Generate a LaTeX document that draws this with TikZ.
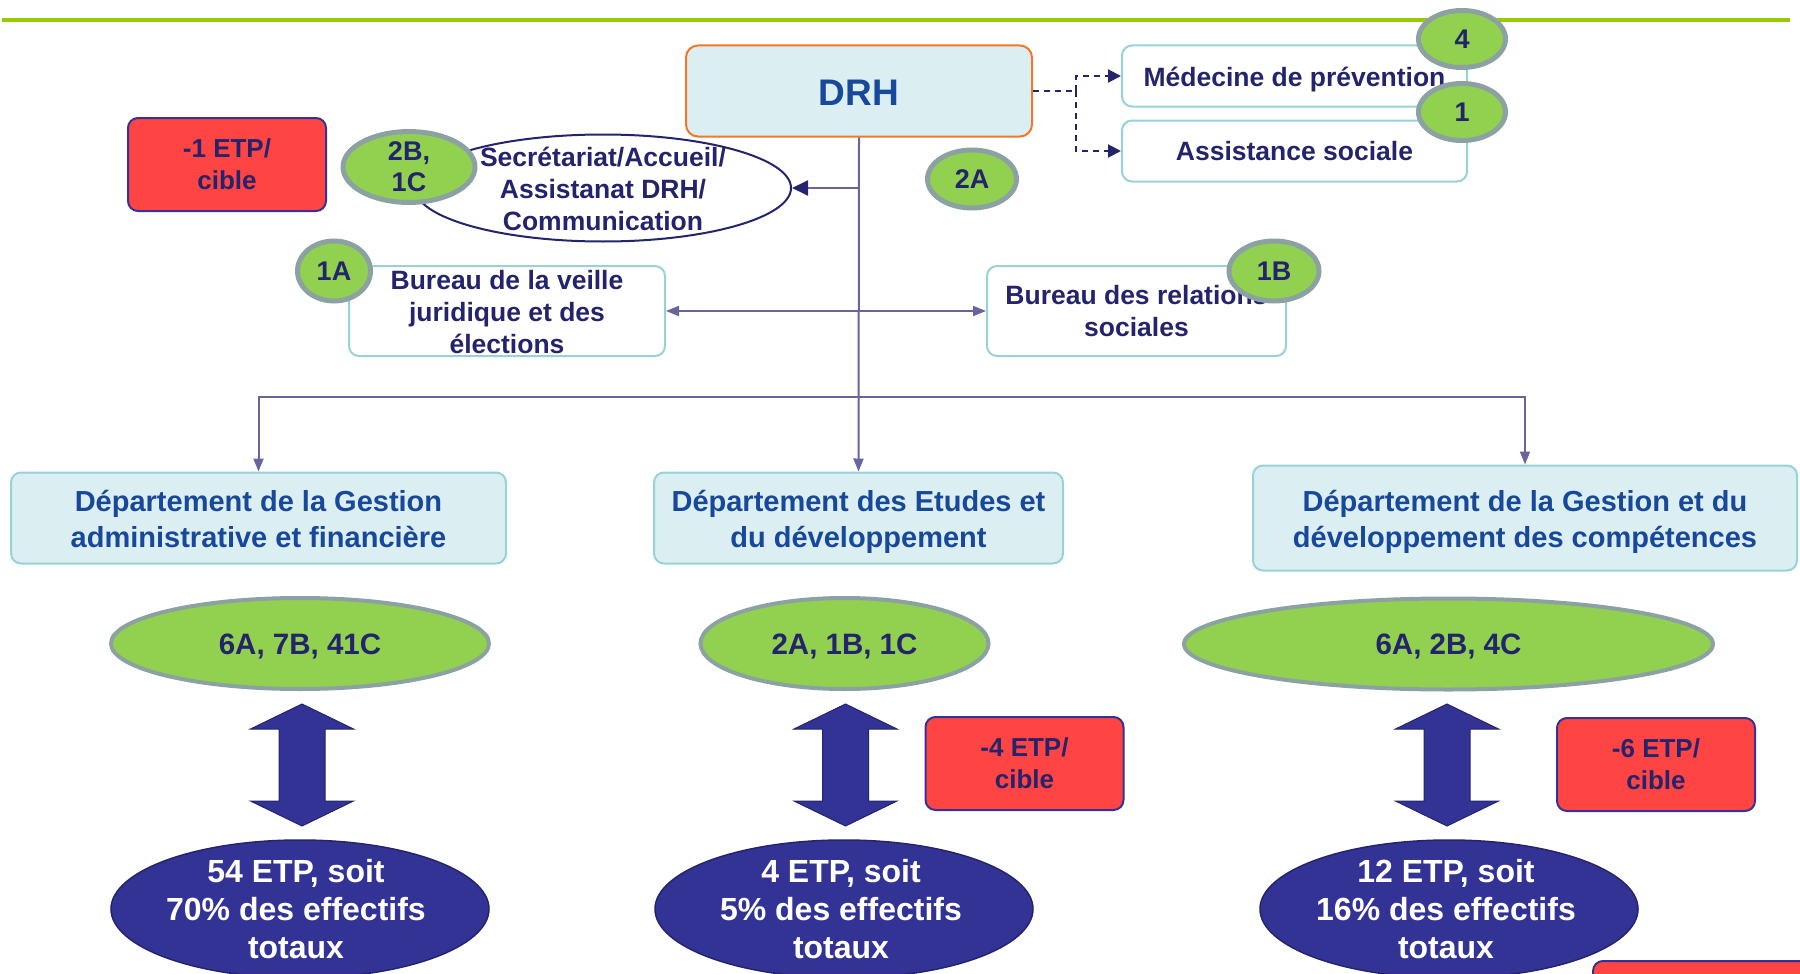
\documentclass[tikz,border=0pt]{standalone}
\usepackage{fontspec}
\setmainfont{Liberation Sans}
\usetikzlibrary{arrows.meta,shapes.geometric}

\definecolor{navytext}{RGB}{36,36,108}
\definecolor{depttext}{RGB}{24,72,154}
\definecolor{paleblue}{RGB}{219,238,241}
\definecolor{tealline}{RGB}{150,210,214}
\definecolor{orangeline}{RGB}{244,118,38}
\definecolor{leaf}{RGB}{146,208,80}
\definecolor{leafrim}{RGB}{140,162,162}
\definecolor{indigo}{RGB}{51,51,150}
\definecolor{alertred}{RGB}{255,68,68}
\definecolor{slate}{RGB}{104,100,156}
\definecolor{lime}{RGB}{153,204,0}
\newcommand\setfs[2]{\fontsize{#1}{#2}\selectfont}

\tikzset{
  unit/.style={draw=tealline, line width=2pt, rounded corners=10pt, fill=white,
    text=navytext, font=\bfseries\setfs{26.5}{32}, align=center, inner sep=0pt},
  dept/.style={unit, fill=paleblue, text=depttext, font=\bfseries\setfs{29}{36}},
  label/.style={text=navytext, font=\bfseries\setfs{26.5}{32}, align=center, inner sep=0pt},
  badge/.style={ellipse, draw=leafrim, line width=5pt, fill=leaf, text=navytext,
    font=\bfseries\setfs{27}{31}, align=center, inner sep=0pt},
  quota/.style={ellipse, draw=leafrim, line width=4pt, fill=leaf, text=navytext,
    font=\bfseries\setfs{29.5}{32}, inner sep=0pt},
  share/.style={ellipse, draw=navytext, line width=1.5pt, fill=indigo, inner sep=0pt},
  sharetext/.style={text=white, font=\bfseries\setfs{32}{38}, align=center, inner sep=0pt},
  target/.style={draw=indigo, line width=2pt, rounded corners=10pt, fill=alertred,
    text=navytext, font=\bfseries\setfs{26}{32}, align=center, inner sep=0pt},
  link/.style={draw=slate, line width=2pt, -{Triangle[length=13pt,width=10pt]}},
  dashlink/.style={draw=navytext, line width=2pt, dash pattern=on 6pt off 5pt},
  updown/.pic={
    \path[fill=indigo, draw=navytext, line width=1pt]
      (0,0) -- (51.5,25) -- (23,25) -- (23,97) -- (51.5,97) -- (0,122)
      -- (-51.5,97) -- (-23,97) -- (-23,25) -- (-51.5,25) -- cycle;
  }
}

\begin{document}
\begin{tikzpicture}[x=1pt,y=-1pt]
\useasboundingbox (0,0) rectangle (1800,974);

% header rule
\draw[lime, line width=4pt] (2,20) -- (1790,20);

% direction
\node[unit, draw=orangeline, fill=paleblue, minimum width=346, minimum height=91,
  rounded corners=12pt] (drh) at (859,91) {};
\node[text=depttext, font=\bfseries\setfs{37}{40}, inner sep=0pt] (drhtext) at (859,93) {DRH};

% attached services
\node[unit, minimum width=345, minimum height=61] (med) at (1294.5,76) {};
\node[label] (medtext) at (1294.5,80) {Médecine de prévention};
\node[unit, minimum width=345, minimum height=61] (asst) at (1294.5,151) {Assistance sociale};
\node[ellipse, draw=navytext, line width=2pt, fill=white, inner sep=0pt,
  minimum width=376, minimum height=107] (sec) at (603,188) {};
\node[label] (sectext) at (603,189) {Secrétariat/Accueil/\\Assistanat DRH/\\Communication};
\node[unit, minimum width=316, minimum height=90] (veille) at (507,311) {};
\node[label] (veilletext) at (507,312) {Bureau de la veille\\juridique et des\\élections};
\node[unit, minimum width=299, minimum height=90] (rel) at (1136.5,311)
  {Bureau des relations\\sociales};

% departments
\node[dept, minimum width=495, minimum height=91] (dl) at (258.5,518) {};
\node[dept, draw=none, fill=none] (dltext) at (258.5,519.5)
  {Département de la Gestion\\administrative et financière};
\node[dept, minimum width=409, minimum height=91] (dm) at (858.5,518) {};
\node[dept, draw=none, fill=none] (dmtext) at (858.5,521.5)
  {Département des Etudes et\\du développement};
\node[dept, minimum width=544, minimum height=105] (dr) at (1525,518) {};
\node[dept, draw=none, fill=none] (drtext) at (1525,522)
  {Département de la Gestion et du\\développement des compétences};

% connectors
\coordinate (fork) at (859,397);
\coordinate (split) at (1076,91);
\draw[link] (drh.south) -- (dm.north);
\draw[link] (fork) -| (dl.north);
\draw[link] (fork) -| (dr.north);
\draw[draw=slate, line width=2pt, -{Triangle[length=16pt,width=15pt,color=navytext]}]
  (drh.south |- sec.east) -- (sec.east);
\draw[link, {Triangle[length=13pt,width=10pt]}-{Triangle[length=13pt,width=10pt]}]
  (veille.east) -- (rel.west);
\draw[dashlink] (drh.east) -- (split);
\draw[dashlink, -{Triangle[length=13pt,width=13pt]}] (split) |- (med.west);
\draw[dashlink, -{Triangle[length=13pt,width=13pt]}] (split) |- (asst.west);

% staffing badges
\node[badge, minimum width=87, minimum height=57] (b4) at (1462,39) {4};
\node[badge, minimum width=87, minimum height=57] (b1) at (1462,112) {1};
\node[badge, minimum width=89, minimum height=58] (b2a) at (972,179) {2A};
\node[badge, minimum width=132, minimum height=60] (b2b) at (409,167) {2B,\\1C};
\node[badge, minimum width=73, minimum height=60] (b1a) at (334,271) {1A};
\node[badge, minimum width=90, minimum height=60] (b1b) at (1274,271) {1B};

% targets
\node[target, minimum width=198, minimum height=93] (t1) at (227,164.5) {-1 ETP/\\cible};
\node[target, minimum width=198, minimum height=93] (t4) at (1024.5,763.5) {-4 ETP/\\cible};
\node[target, minimum width=198, minimum height=93] (t6) at (1656,764.5) {-6 ETP/\\cible};
\node[target, minimum width=220, minimum height=90, anchor=north west] (t7) at (1592,960) {};

% grade counts
\node[quota, minimum width=378, minimum height=91] (ql) at (300,643.5) {};
\node[quota, draw=none, fill=none] (qltext) at (300,646) {6A, 7B, 41C};
\node[quota, minimum width=288, minimum height=91] (qm) at (844.5,643.5) {};
\node[quota, draw=none, fill=none] (qmtext) at (844.5,646) {2A, 1B, 1C};
\node[quota, minimum width=529, minimum height=91] (qr) at (1448.5,644) {};
\node[quota, draw=none, fill=none] (qrtext) at (1448.5,646) {6A, 2B, 4C};

% block arrows
\pic at (302,704) {updown};
\pic at (845.5,704) {updown};
\pic at (1447,704) {updown};

% headcount shares
\node[share, minimum width=378, minimum height=138] (sl) at (300,909) {};
\node[sharetext] (sltext) at (296,909) {54 ETP, soit\\70\% des effectifs\\totaux};
\node[share, minimum width=378, minimum height=138] (sm) at (844,909) {};
\node[sharetext] (smtext) at (841,909) {4 ETP, soit\\5\% des effectifs\\totaux};
\node[share, minimum width=378, minimum height=138] (sr) at (1449,909) {};
\node[sharetext] (srtext) at (1446,909) {12 ETP, soit\\16\% des effectifs\\totaux};

\end{tikzpicture}
\end{document}
